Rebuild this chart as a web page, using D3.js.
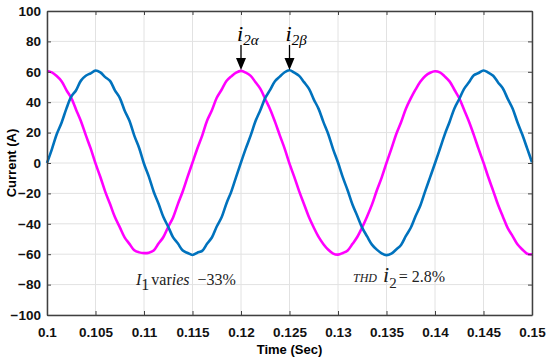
<!DOCTYPE html>
<html>
<head>
<meta charset="utf-8">
<script src="https://cdn.jsdelivr.net/npm/d3@7"></script>
<style>
  body { margin: 0; background: #fff; }
</style>
</head>
<body>
<script>
// variables:
var w = 550
var h = 362
var margin = { left: 47, right: 18, top: 11, bottom: 47 }

// data: samples every 0.5 ms from 0.1 s to 0.15 s
var tStart = 0.1
var tStep = 0.0005

// i2 beta (blue)
var i2beta = [
  0, 9, 18.9, 26.5, 35.8, 43.6, 47.9, 54.2, 57.4, 59.0, 60.8,
  59.6, 56.5, 54.0, 47.8, 42.9, 34.6, 27.8, 18.0, 9.9, -0.5,
  -9.0, -18.9, -26.8, -35.6, -42.0, -48.9, -53.0, -57.6, -59.2, -60.5,
  -59.0, -57.8, -53.1, -49.0, -41.8, -35.7, -26.6, -18.8, -9.1, 0.4,
  9.6, 18.2, 27.6, 34.9, 42.8, 48.1, 53.8, 56.8, 59.7, 61.0,
  59.4, 57.3, 53.2, 48.9, 41.9, 35.6, 26.9, 18.9, 9.0, 0.3,
  -9.5, -18.1, -27.5, -35.0, -42.7, -48.3, -53.7, -57.0, -59.4, -60.6,
  -59.6, -56.9, -53.9, -48.0, -42.6, -34.9, -27.8, -18.3, -9.3, -0.2,
  9.2, 18.7, 27.0, 35.9, 42.1, 48.8, 53.1, 57.7, 59.2, 60.9,
  59.5, 57.4, 53.0, 49.0, 42.2, 35.9, 26.8, 18.7, 9.6, 0.5
]

// i2 alpha (magenta)
var i2alpha = [
  60.5, 59.6, 57.2, 53.8, 48.0, 42.8, 35.1, 27.5, 18.3, 9.6, -0.3,
  -9.2, -18.8, -27.0, -35.6, -42.2, -48.9, -53.2, -57.4, -58.8, -59.3,
  -59.0, -57.6, -53.0, -48.7, -42.0, -35.8, -26.9, -18.6, -9.0, 0.2,
  9.5, 18.0, 27.8, 34.7, 42.9, 48.2, 53.9, 57.0, 59.5, 60.6,
  59.4, 57.3, 53.1, 48.8, 42.1, 35.4, 27.2, 18.2, 9.5, -0.4,
  -9.3, -18.7, -27.1, -35.5, -42.4, -48.6, -53.4, -57.1, -59.6, -60.3,
  -59.2, -57.5, -53.2, -48.5, -42.3, -35.2, -27.4, -18.1, -9.6, 0.1,
  9.3, 18.9, 26.8, 35.7, 42.5, 48.4, 53.6, 57.3, 59.4, 60.4,
  59.6, 57.0, 53.7, 48.2, 42.6, 35.0, 27.3, 18.5, 9.1, 0.2,
  -9.4, -18.3, -27.5, -35.3, -42.9, -48.1, -53.5, -56.9, -59.7, -60.1
]

var xTicks = [0.1, 0.105, 0.11, 0.115, 0.12, 0.125, 0.13, 0.135, 0.14, 0.145, 0.15]
var xTickLabels = ['0.1', '0.105', '0.11', '0.115', '0.12', '0.125', '0.13', '0.135', '0.14', '0.145', '0.15']
var yTicks = [-100, -80, -60, -40, -20, 0, 20, 40, 60, 80, 100]

var svg = d3.select('body')
  .append('svg')
  .attr('width', w)
  .attr('height', h)

var xScale = d3.scaleLinear()
  .domain([0.1, 0.15])
  .range([margin.left, w - margin.right])

var yScale = d3.scaleLinear()
  .domain([-100, 100])
  .range([h - margin.bottom, margin.top])

var x0 = xScale.range()[0]
var x1 = xScale.range()[1]
var y0 = yScale.range()[0]
var y1 = yScale.range()[1]

// grid
svg.append('g')
  .selectAll('line')
  .data(xTicks)
  .enter()
  .append('line')
  .attr('x1', function (d) { return xScale(d) })
  .attr('x2', function (d) { return xScale(d) })
  .attr('y1', y1)
  .attr('y2', y0)
  .attr('stroke', '#e2e2e2')
  .attr('stroke-width', 1)

svg.append('g')
  .selectAll('line')
  .data(yTicks)
  .enter()
  .append('line')
  .attr('x1', x0)
  .attr('x2', x1)
  .attr('y1', function (d) { return yScale(d) })
  .attr('y2', function (d) { return yScale(d) })
  .attr('stroke', '#e2e2e2')
  .attr('stroke-width', 1)

// lines
var line = d3.line()
  .x(function (d, i) { return xScale(tStart + i * tStep) })
  .y(function (d) { return yScale(d) })
  .curve(d3.curveCatmullRom)

svg.append('path')
  .datum(i2alpha)
  .attr('d', line)
  .attr('fill', 'none')
  .attr('stroke', '#ff00ff')
  .attr('stroke-width', 2.6)

svg.append('path')
  .datum(i2beta)
  .attr('d', line)
  .attr('fill', 'none')
  .attr('stroke', '#0072bd')
  .attr('stroke-width', 2.6)

// axes (box with inward ticks)
var fmt = function (d) { return xTickLabels[xTicks.indexOf(d)] }

svg.append('g')
  .attr('transform', 'translate(0,' + y0 + ')')
  .call(d3.axisBottom(xScale).tickValues(xTicks).tickFormat(fmt).tickSizeInner(-4).tickSizeOuter(0).tickPadding(12))

svg.append('g')
  .attr('transform', 'translate(0,' + y1 + ')')
  .call(d3.axisTop(xScale).tickValues(xTicks).tickFormat('').tickSizeInner(-4).tickSizeOuter(0))

svg.append('g')
  .attr('transform', 'translate(' + x0 + ',0)')
  .call(d3.axisLeft(yScale).tickValues(yTicks).tickSizeInner(-4).tickSizeOuter(0).tickPadding(6))

svg.append('g')
  .attr('transform', 'translate(' + x1 + ',0)')
  .call(d3.axisRight(yScale).tickValues(yTicks).tickFormat('').tickSizeInner(-4).tickSizeOuter(0))

svg.selectAll('.domain')
  .attr('stroke', '#404040')
  .attr('stroke-width', 1.5)
svg.selectAll('.tick line')
  .attr('stroke', '#404040')
svg.selectAll('.tick text')
  .attr('font-family', 'Liberation Sans, Arial, sans-serif')
  .attr('font-weight', 'bold')
  .attr('font-size', '13.5px')
  .attr('fill', '#111')

// axis labels
svg.append('text')
  .text('Time (Sec)')
  .attr('x', (x0 + x1) / 2)
  .attr('y', 354)
  .attr('text-anchor', 'middle')
  .attr('font-family', 'Liberation Sans, Arial, sans-serif')
  .attr('font-weight', 'bold')
  .attr('font-size', '13px')

svg.append('text')
  .text('Current (A)')
  .attr('transform', 'translate(16,' + yScale(0) + ') rotate(-90)')
  .attr('text-anchor', 'middle')
  .attr('font-family', 'Liberation Sans, Arial, sans-serif')
  .attr('font-weight', 'bold')
  .attr('font-size', '13px')

// annotations
var serif = 'Liberation Serif, Times New Roman, serif'

var arrowLabels = [
  { t: 0.12, sub: '2\u03B1' },
  { t: 0.125, sub: '2\u03B2' }
]

arrowLabels.forEach(function (a) {
  var ax = xScale(a.t)
  var lbl = svg.append('text')
    .attr('x', ax - 4)
    .attr('y', 41)
    .attr('font-family', serif)
    .attr('font-style', 'italic')
    .attr('font-size', '22px')
  lbl.append('tspan').text('i')
  lbl.append('tspan').text(a.sub)
    .attr('font-size', '15px')
    .attr('dy', 4)

  svg.append('line')
    .attr('x1', ax)
    .attr('x2', ax)
    .attr('y1', 45)
    .attr('y2', 60)
    .attr('stroke', '#000')
    .attr('stroke-width', 1.3)
  svg.append('path')
    .attr('d', 'M' + (ax - 5) + ',58 L' + (ax + 5) + ',58 L' + ax + ',70 Z')
    .attr('fill', '#000')
})

var t1 = svg.append('text')
  .attr('x', 136)
  .attr('y', 285)
  .attr('font-family', serif)
  .attr('font-size', '16px')
  .attr('fill', '#222')
t1.append('tspan').text('I').attr('font-style', 'italic')
t1.append('tspan').text('1').attr('dy', 5)
t1.append('tspan').text('var').attr('dy', -5).attr('dx', 2)
t1.append('tspan').text('ies').attr('font-style', 'italic')
t1.append('tspan').text('\u221233%').attr('dx', 8)

var t2 = svg.append('text')
  .attr('x', 353)
  .attr('y', 282)
  .attr('font-family', serif)
  .attr('fill', '#222')
t2.append('tspan').text('THD').attr('font-style', 'italic').attr('font-size', '12px')
t2.append('tspan').text('i').attr('font-style', 'italic').attr('font-size', '22px').attr('dx', 6)
t2.append('tspan').text('2').attr('font-size', '15px').attr('dy', 6)
t2.append('tspan').text('= 2.8%').attr('font-size', '16px').attr('dy', -6).attr('dx', 2)
</script>
</body>
</html>
